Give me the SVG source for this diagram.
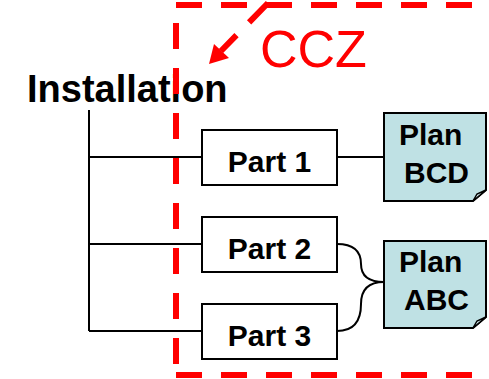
<svg xmlns="http://www.w3.org/2000/svg" width="489" height="379" viewBox="0 0 489 379">
<style>
.lbl{font-family:"Liberation Sans",Arial,sans-serif;font-weight:bold;font-size:30px;fill:#000}
.box{fill:#fff;stroke:#000;stroke-width:2}
.plan{fill:#bfe1e4;stroke:#000;stroke-width:2;stroke-linejoin:miter}
.fold{fill:#d9eff1;stroke:#000;stroke-width:1.5}
.conn{fill:none;stroke:#000;stroke-width:2}
.zone{fill:none;stroke:#ff0000;stroke-width:6;stroke-dasharray:26 19}
</style>
<rect width="489" height="379" fill="#fff"/>
<g id="connectors">
<path class="conn" d="M89,110 V331"/>
<path class="conn" d="M89,157 H202"/>
<path class="conn" d="M89,244 H202"/>
<path class="conn" d="M89,331 H202"/>
<path class="conn" d="M337,157 H384"/>
<path class="conn" d="M337,244 Q361,244 361,264 Q361,282 384,282"/>
<path class="conn" d="M337,331 Q361,331 361,304 Q361,282 384,282"/>
</g>
<g id="installation">
<text class="lbl" x="27" y="102" style="font-size:38px">Installation</text>
</g>
<g id="part1">
<rect class="box" x="202" y="130" width="135" height="55"/>
<text class="lbl" x="269.5" y="171.5" text-anchor="middle">Part 1</text>
</g>
<g id="part2">
<rect class="box" x="202" y="217" width="135" height="55"/>
<text class="lbl" x="269.5" y="259" text-anchor="middle">Part 2</text>
</g>
<g id="part3">
<rect class="box" x="202" y="304" width="135" height="55"/>
<text class="lbl" x="269.5" y="346" text-anchor="middle">Part 3</text>
</g>
<g id="planBCD">
<path class="plan" d="M384,113 H486 V190 L473,201 H384 Z"/>
<path class="fold" d="M473,201 L477,194 L486,190 Z"/>
<text class="lbl" x="399" y="145">Plan</text>
<text class="lbl" x="404" y="183">BCD</text>
</g>
<g id="planABC">
<path class="plan" d="M384,241 H486 V317 L473,328 H384 Z"/>
<path class="fold" d="M473,328 L477,321 L486,317 Z"/>
<text class="lbl" x="399" y="272">Plan</text>
<text class="lbl" x="404" y="310">ABC</text>
</g>
<g id="ccz">
<path class="zone" d="M176,5 H500"/>
<path class="zone" d="M176,375 H500"/>
<path class="zone" d="M176,23 V375"/>
<path d="M268,3 L221,51" fill="none" stroke="#ff0000" stroke-width="6" stroke-dasharray="27 18"/>
<polygon points="209,64 214,44 229,58" fill="#ff0000"/>
<text x="260" y="67" style="font-family:'Liberation Sans',Arial,sans-serif;font-size:52px;fill:#ff0000">CCZ</text>
</g>
</svg>
